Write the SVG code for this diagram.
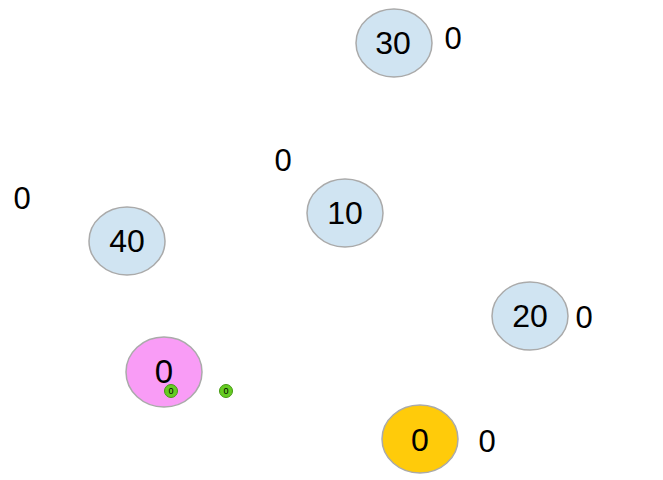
<svg xmlns="http://www.w3.org/2000/svg" width="663" height="480" viewBox="0 0 663 480">
<style>
.n{stroke:#aaaaaa;stroke-width:1.5}
.b{fill:#d0e4f2}
.t{font-family:"Liberation Sans",Arial,sans-serif;font-size:32px;fill:#000;text-anchor:middle;dominant-baseline:central}
.o{font-family:"Liberation Sans",Arial,sans-serif;font-size:31px;fill:#000;text-anchor:middle;dominant-baseline:central}
.g{fill:#66cc22;stroke:#449911;stroke-width:1}
.s{font-family:"Liberation Sans",Arial,sans-serif;font-size:9px;fill:#000;text-anchor:middle;dominant-baseline:central}
</style>
<rect width="663" height="480" fill="#fff"/>
<g id="connectors"></g>
<g id="n30"><ellipse class="n b" cx="394" cy="43" rx="38" ry="34"/><text class="t" x="393" y="43">30</text><text class="o" x="453" y="38">0</text></g>
<g id="n10"><ellipse class="n b" cx="345" cy="213" rx="38" ry="34"/><text class="t" x="345" y="213">10</text><text class="o" x="283" y="160">0</text></g>
<g id="n40"><ellipse class="n b" cx="127" cy="241" rx="38" ry="34"/><text class="t" x="127" y="241">40</text><text class="o" x="22" y="198">0</text></g>
<g id="n20"><ellipse class="n b" cx="530" cy="316" rx="38" ry="34"/><text class="t" x="530" y="316">20</text><text class="o" x="584" y="317">0</text></g>
<g id="npink"><ellipse class="n" fill="#f99cf6" cx="164" cy="372" rx="38" ry="35"/><text class="t" x="164" y="371" style="font-size:33px">0</text></g>
<g id="g1"><circle class="g" cx="171" cy="391" r="6.5"/><text class="s" x="171" y="391">0</text></g>
<g id="g2"><circle class="g" cx="226" cy="391" r="6.5"/><text class="s" x="226" y="391">0</text></g>
<g id="nyellow"><ellipse class="n" fill="#ffcb0a" cx="420" cy="439" rx="38" ry="34"/><text class="t" x="420" y="440">0</text><text class="o" x="487" y="441">0</text></g>
</svg>
